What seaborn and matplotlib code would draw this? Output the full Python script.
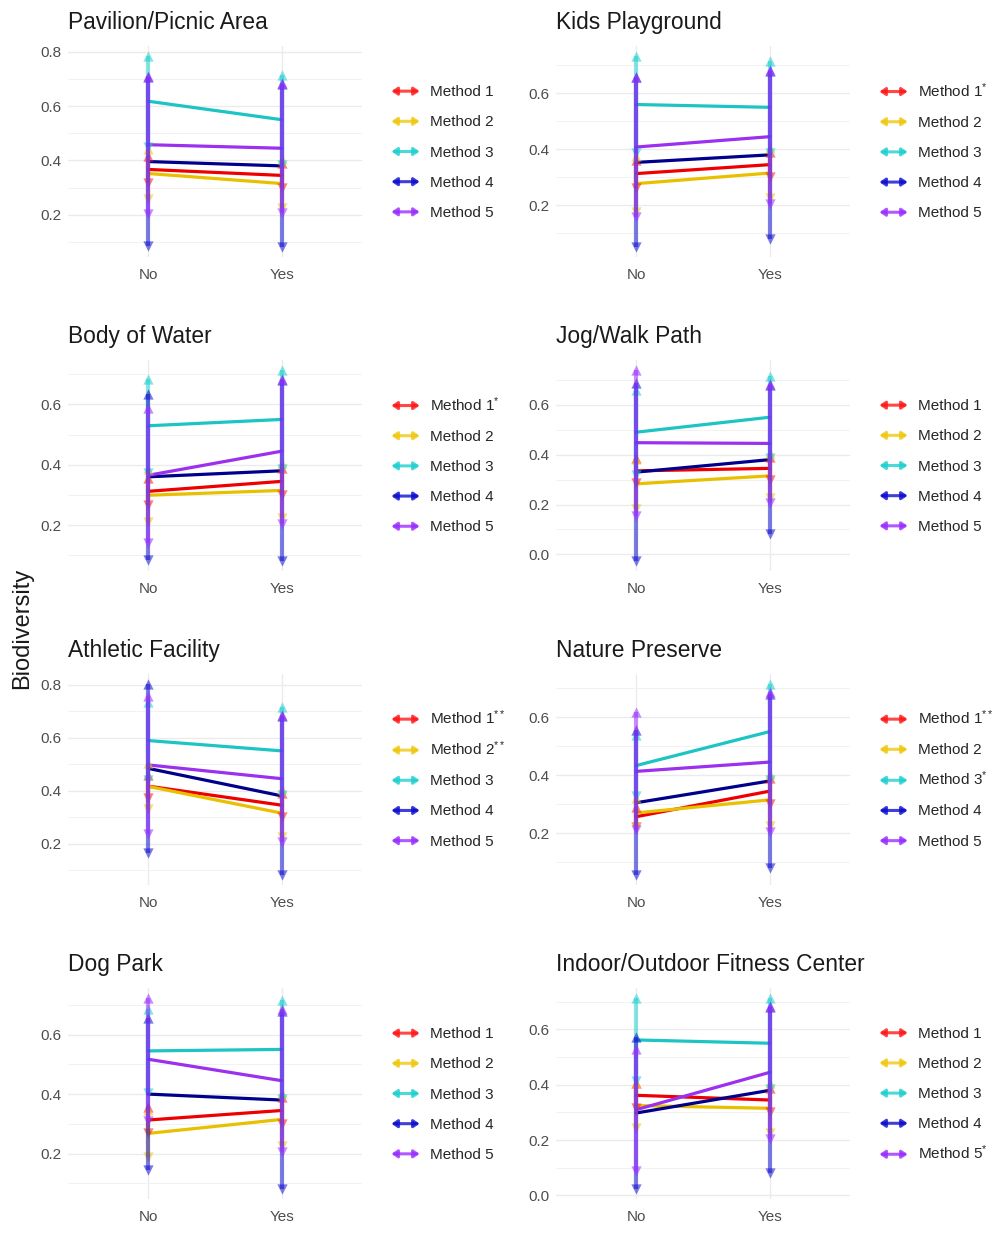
import pandas as pd
import numpy as np
import seaborn as sns
import matplotlib.pyplot as plt
from matplotlib.lines import Line2D
from matplotlib.patches import FancyArrowPatch
from matplotlib.legend_handler import HandlerBase
from matplotlib.ticker import MultipleLocator

panels = ['Pavilion/Picnic Area', 'Kids Playground', 'Body of Water', 'Jog/Walk Path',
          'Athletic Facility', 'Nature Preserve', 'Dog Park', 'Indoor/Outdoor Fitness Center']
methods = ['Method 1', 'Method 2', 'Method 3', 'Method 4', 'Method 5']
groups = ['No', 'Yes']

# "Yes" group is the same in every panel
yes_mean = [0.345, 0.315, 0.55, 0.38, 0.445]
yes_err = [0.045, 0.09, 0.165, 0.30, 0.24]

# "No" group, one row per panel, methods 1..5
no_mean = [[0.367, 0.352, 0.618, 0.396, 0.458],
           [0.313, 0.277, 0.560, 0.353, 0.408],
           [0.312, 0.299, 0.529, 0.360, 0.365],
           [0.335, 0.283, 0.490, 0.330, 0.448],
           [0.417, 0.416, 0.589, 0.484, 0.497],
           [0.257, 0.270, 0.433, 0.305, 0.413],
           [0.313, 0.268, 0.545, 0.400, 0.517],
           [0.362, 0.325, 0.562, 0.298, 0.310]]
no_err = [[0.050, 0.092, 0.168, 0.311, 0.254],
          [0.050, 0.100, 0.175, 0.304, 0.250],
          [0.045, 0.088, 0.155, 0.275, 0.223],
          [0.050, 0.100, 0.170, 0.358, 0.293],
          [0.043, 0.087, 0.147, 0.320, 0.260],
          [0.035, 0.050, 0.105, 0.250, 0.203],
          [0.042, 0.078, 0.142, 0.255, 0.207],
          [0.046, 0.080, 0.150, 0.276, 0.220]]

# significance stars shown in each legend
stars = [['', '', '', '', ''],
         ['*', '', '', '', ''],
         ['*', '', '', '', ''],
         ['', '', '', '', ''],
         ['**', '**', '', '', ''],
         ['**', '', '*', '', ''],
         ['', '', '', '', ''],
         ['', '', '', '', '*']]

line_colors = ['#ee0000', '#e8c000', '#1cc4c4', '#00008b', '#9b30ee']
bar_colors = ['#ff1a1a', '#f0c810', '#22d0d0', '#1010d0', '#9b30ff']


class ArrowHandler(HandlerBase):
    def create_artists(self, legend, orig_handle, xdescent, ydescent, width, height, fontsize, trans):
        y = height / 2 - ydescent
        a = FancyArrowPatch((-xdescent, y), (-xdescent + width, y),
                            arrowstyle='<|-|>,head_length=0.32,head_width=0.22', mutation_scale=10,
                            shrinkA=0, shrinkB=0, color=orig_handle.get_color(), lw=2.2,
                            alpha=0.8, transform=trans)
        return [a]


def build_frame(i):
    rows = []
    for j, m in enumerate(methods):
        rows.append({'Method': m, 'Park': 'No', 'Biodiversity': no_mean[i][j], 'err': no_err[i][j]})
        rows.append({'Method': m, 'Park': 'Yes', 'Biodiversity': yes_mean[j], 'err': yes_err[j]})
    return pd.DataFrame(rows)


def draw_panel(ax, i):
    df = build_frame(i)
    sns.lineplot(data=df, x='Park', y='Biodiversity', hue='Method', hue_order=methods,
                 palette=line_colors, lw=2.3, legend=False, ax=ax, zorder=2)
    for j, m in enumerate(methods):
        d = df[df['Method'] == m]
        lo = d['Biodiversity'] - d['err']
        hi = d['Biodiversity'] + d['err']
        ax.vlines(d['Park'], lo, hi, color=bar_colors[j], lw=3, alpha=0.55, zorder=3)
        ax.scatter(d['Park'], hi, marker='^', s=55, color=bar_colors[j], alpha=0.55, lw=0, zorder=3)
        ax.scatter(d['Park'], lo, marker='v', s=55, color=bar_colors[j], alpha=0.55, lw=0, zorder=3)
    ax.set_xlim(-0.6, 1.6)
    ax.yaxis.set_major_locator(MultipleLocator(0.2))
    ax.yaxis.set_minor_locator(MultipleLocator(0.1))
    ax.grid(which='major', color='#ebebeb', lw=1.0)
    ax.grid(which='minor', axis='y', color='#f2f2f2', lw=0.7)
    ax.tick_params(which='both', length=0, labelsize=11, labelcolor='#4d4d4d')
    ax.tick_params(axis='x', pad=8)
    ax.tick_params(axis='y', pad=5)
    for s in ax.spines.values():
        s.set_visible(False)
    ax.set_xlabel('')
    ax.set_ylabel('')
    ax.set_title(panels[i], loc='left', fontsize=16.4, pad=12.5, color='#1a1a1a')
    handles = [Line2D([], [], color=c) for c in bar_colors]
    labels = [m + ('$^{' + st + '}$' if st else '') for m, st in zip(methods, stars[i])]
    ax.legend(handles, labels, handler_map={Line2D: ArrowHandler()}, loc='center left',
              bbox_to_anchor=(1.1, 0.5), frameon=False, borderaxespad=0, borderpad=0,
              handlelength=1.85, handleheight=1.6, handletextpad=0.7, labelspacing=0.69,
              fontsize=11)


def main():
    sns.set_theme(style='whitegrid')
    plt.rcParams['font.family'] = ['Liberation Sans', 'DejaVu Sans']
    plt.rcParams['mathtext.fontset'] = 'custom'
    plt.rcParams['mathtext.rm'] = 'Liberation Sans'
    plt.rcParams['mathtext.default'] = 'regular'

    W, H = 997, 1236
    fig = plt.figure(figsize=(W / 100, H / 100), dpi=100)
    lefts = [68, 556]
    tops = [46, 360, 674, 988]
    for i in range(len(panels)):
        r, c = divmod(i, 2)
        ax = fig.add_axes([lefts[c] / W, 1 - (tops[r] + 211) / H, 294 / W, 211 / H])
        draw_panel(ax, i)
    fig.text(0.022, 1 - 628 / H, 'Biodiversity', rotation=90, va='center', ha='center',
             fontsize=17, color='#1a1a1a')
    fig.savefig('out.png', dpi=100, facecolor='white')


if __name__ == "__main__":
    main()
